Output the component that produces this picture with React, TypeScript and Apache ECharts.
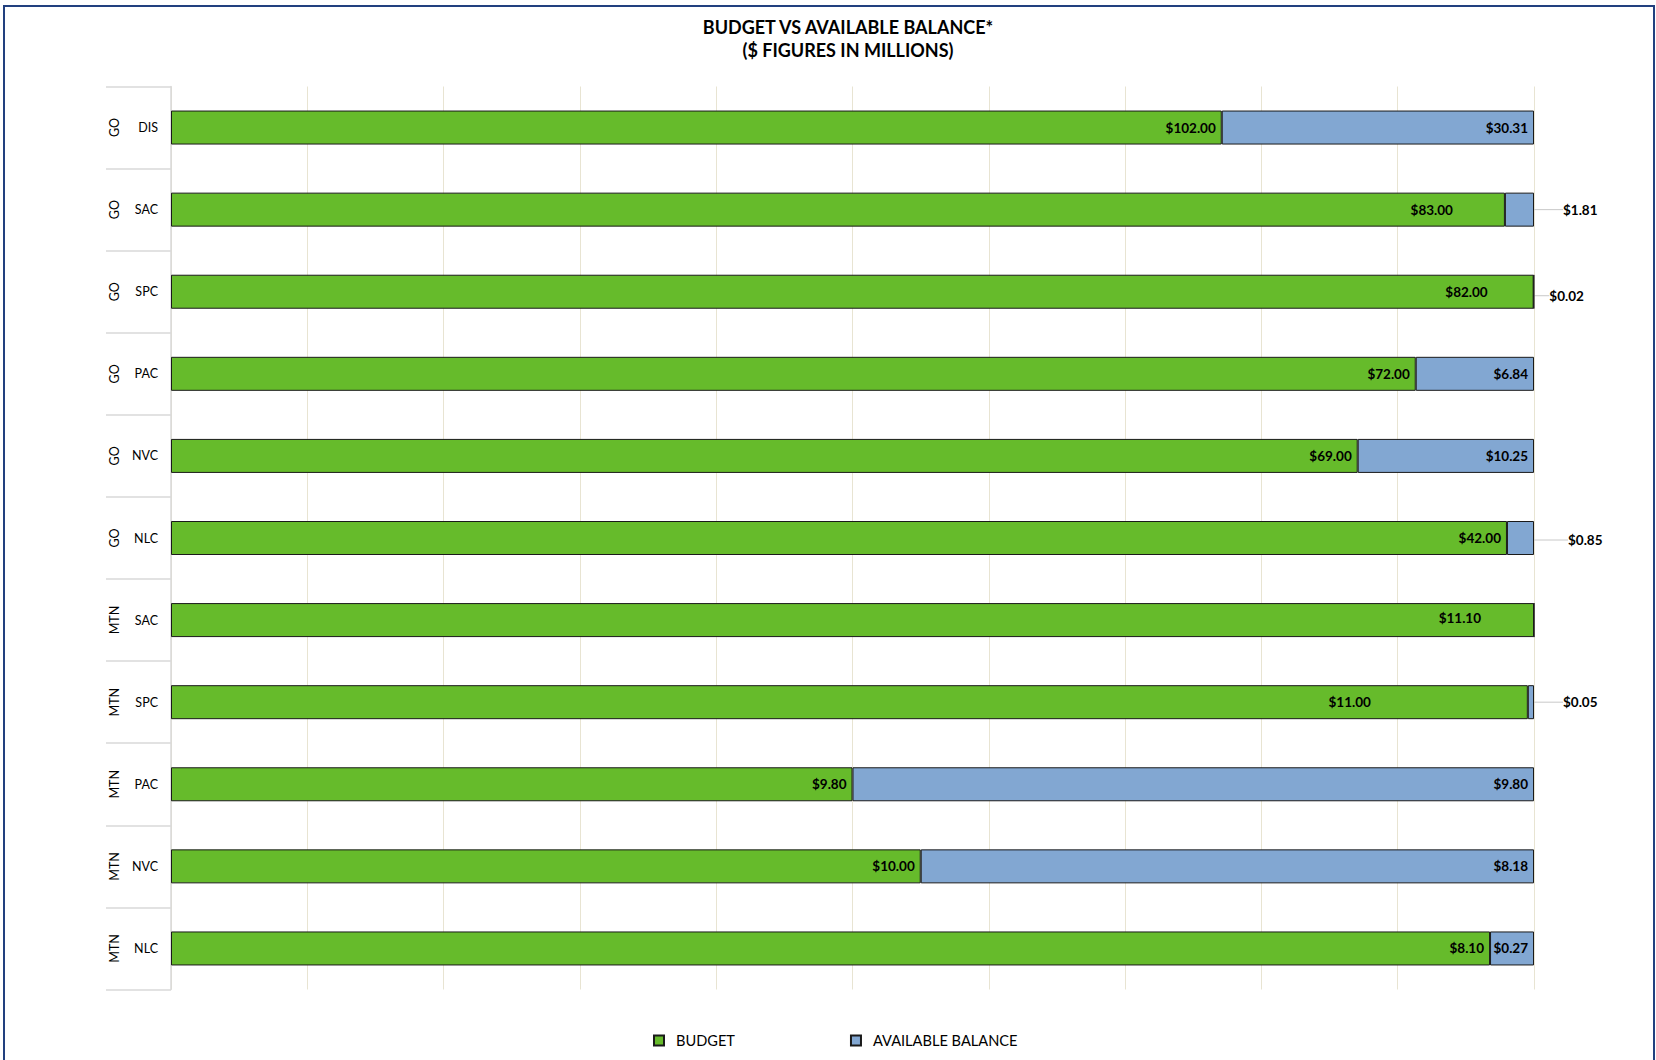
import React, { useEffect, useRef } from 'react';
import * as echarts from 'echarts';

const groups = ['GO', 'GO', 'GO', 'GO', 'GO', 'GO', 'MTN', 'MTN', 'MTN', 'MTN', 'MTN'];
const units = ['DIS', 'SAC', 'SPC', 'PAC', 'NVC', 'NLC', 'SAC', 'SPC', 'PAC', 'NVC', 'NLC'];
const budget = [102.0, 83.0, 82.0, 72.0, 69.0, 42.0, 11.1, 11.0, 9.8, 10.0, 8.1];
const balance = [30.31, 1.81, 0.02, 6.84, 10.25, 0.85, 0, 0.05, 9.8, 8.18, 0.27];
const seriesNames = ['BUDGET', 'AVAILABLE BALANCE'];
const xTicks = [0, 10, 20, 30, 40, 50, 60, 70, 80, 90, 100];

const FONT = 'Lato, "Open Sans", sans-serif';
const GREEN = '#66BB2B';
const BLUE = '#82A7D2';

export default function App() {
  const ref = useRef<HTMLDivElement>(null);
  useEffect(() => {
    document.body.style.margin = '0';
    const chart = echarts.init(ref.current!, null, { renderer: 'svg' });
    const total = budget.map((b, i) => b + balance[i]);
    const fmt = (v: number) => '$' + v.toFixed(2);
    // manual label nudges as in the original chart (style/position only)
    const outside: Record<number, [number, number]> = { 1: [24, 0], 2: [10, 4], 5: [29, 2], 7: [24, 0] };
    const budgetNudge: Record<number, [number, number]> = { 1: [-46, 0], 2: [-40, 0], 6: [-47, -2], 7: [-151, 0] };

    const budgetData = budget.map((b, i) => ({ value: (b / total[i]) * 100 }));
    const balanceData = balance.map((v, i) => {
      const item: any = { value: (v / total[i]) * 100 };
      if (v <= 0) item.label = { show: false };
      else if (outside[i]) {
        item.label = { position: 'right', distance: 5 };
        item.labelLine = { show: true, lineStyle: { color: '#C8C8C8', width: 1 } };
      }
      return item;
    });

    const labelBase = {
      show: true,
      position: 'insideRight',
      distance: 6,
      color: '#000',
      fontFamily: FONT,
      fontWeight: 'bold',
      fontSize: 13.5,
    };

    chart.setOption({
      animation: false,
      backgroundColor: '#fff',
      textStyle: { fontFamily: FONT },
      title: {
        text: 'BUDGET VS AVAILABLE BALANCE*\n($ FIGURES IN MILLIONS)',
        left: 843,
        top: 10,
        textAlign: 'center',
        textStyle: { fontFamily: FONT, fontWeight: 'bold', fontSize: 18, lineHeight: 23, color: '#000' },
      },
      graphic: [
        {
          type: 'rect',
          shape: { x: 4, y: 6, width: 1650, height: 1070 },
          style: { fill: 'none', stroke: '#22407F', lineWidth: 2 },
          silent: true,
          z: 100,
        },
      ],
      legend: {
        top: 1028,
        left: 648,
        itemGap: 115,
        itemWidth: 10,
        itemHeight: 10,
        icon: 'rect',
        textStyle: { fontFamily: FONT, fontSize: 14.6, color: '#000', padding: [0, 0, 0, 7] },
        data: seriesNames,
      },
      grid: { left: 171, right: 122, top: 86.5, bottom: 70.5, containLabel: false },
      xAxis: {
        type: 'value',
        min: xTicks[0],
        max: xTicks[xTicks.length - 1],
        interval: 10,
        axisLabel: { show: false },
        axisLine: { show: false },
        axisTick: { show: false },
        splitLine: { show: true, lineStyle: { color: '#E8E4D2', width: 1 } },
      },
      yAxis: [
        {
          type: 'category',
          inverse: true,
          data: units,
          axisLine: { show: true, lineStyle: { color: '#D9D9D9', width: 1.5 } },
          axisTick: { show: true, length: 65, lineStyle: { color: '#D9D9D9', width: 1.5 } },
          axisLabel: { color: '#000', fontFamily: FONT, fontSize: 12.5, margin: 13 },
        },
        {
          type: 'category',
          inverse: true,
          position: 'left',
          data: groups,
          axisLine: { show: false },
          axisTick: { show: false },
          axisLabel: { color: '#000', fontFamily: FONT, fontSize: 12.5, rotate: 90, margin: 50 },
        },
      ],
      series: [
        {
          name: seriesNames[0],
          type: 'bar',
          stack: 'total',
          barWidth: 34,
          data: budgetData,
          itemStyle: { color: GREEN, borderColor: '#1A1A1A', borderWidth: 1 },
          label: { ...labelBase, formatter: (p: any) => fmt(budget[p.dataIndex]) },
          labelLayout: (p: any) => {
            const o = budgetNudge[p.dataIndex];
            return o ? { dx: o[0], dy: o[1] } : {};
          },
        },
        {
          name: seriesNames[1],
          type: 'bar',
          stack: 'total',
          barWidth: 34,
          data: balanceData,
          itemStyle: { color: BLUE, borderColor: '#1A1A1A', borderWidth: 1 },
          label: { ...labelBase, formatter: (p: any) => fmt(balance[p.dataIndex]) },
          labelLayout: (p: any) => {
            const o = outside[p.dataIndex];
            return o ? { dx: o[0], dy: o[1] } : {};
          },
        },
      ],
    });
    return () => chart.dispose();
  }, []);
  return <div ref={ref} style={{ width: 1656, height: 1060 }} />;
}
